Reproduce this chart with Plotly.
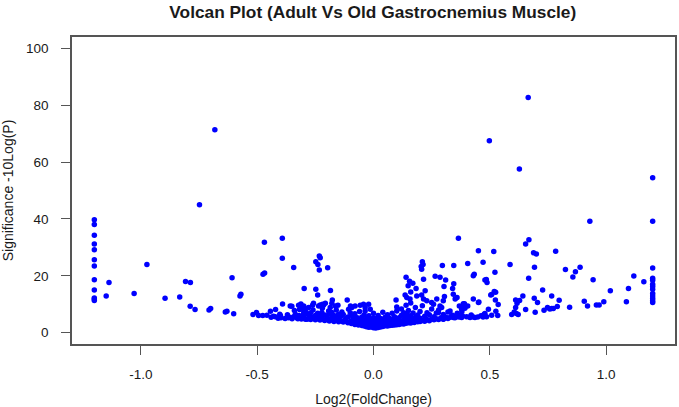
import plotly.graph_objects as go

# scattered genes
fc_outer = [
    -1.2, -1.2, -1.2, -1.2, -1.2, -1.2, -1.2, -1.2, -1.2, -1.2, -1.2, -1.2,
    1.2, 1.2, 1.2, 1.2, 1.2, 1.2, 1.2, 1.2, 1.2, 1.2, 1.2, 1.2, 1.2,
    -1.137, -1.149, -1.029, -0.974, -0.896, -0.833, -0.808, -0.787, -0.788, -0.767,
    -0.748, -0.682, -0.707, -0.700, -0.637, -0.630, -0.601, -0.608, -0.574, -0.570,
    -0.469, -0.475, -0.468, -0.518, -0.503, -0.494, -0.476, -0.458, -0.443, -0.421,
    -0.422, -0.403, -0.398, -0.392, -0.392, -0.391, -0.365, -0.358, -0.351, -0.343,
    -0.336, -0.325, -0.343, -0.318, -0.308, -0.312, -0.300, -0.300, -0.293, -0.286,
    -0.298, -0.248, -0.240, -0.185, -0.248, -0.239, -0.233, -0.229, -0.233, -0.197,
    -0.177, -0.113, -0.322, -0.315, -0.296, -0.279, -0.262, -0.258, -0.300, -0.322,
    -0.265, -0.236, -0.222, -0.222, -0.236, -0.215, -0.207, -0.179, -0.186, -0.193,
    -0.179, -0.164, -0.150, -0.136, -0.107, -0.093, -0.079, -0.057, -0.043, -0.021,
    -0.036, -0.036, -0.014, -0.229, -0.219, -0.164, -0.153, -0.099,
    0.365, 0.451, 0.517, 0.405, 0.471, 0.522, 0.296, 0.345, 0.210, 0.213,
    0.205, 0.207, 0.265, 0.286, 0.310, 0.303, 0.345, 0.340, 0.305, 0.359,
    0.391, 0.385, 0.429, 0.451, 0.433, 0.429, 0.479, 0.488, 0.485, 0.504,
    0.525, 0.476, 0.494, 0.413, 0.436, 0.462, 0.293, 0.258, 0.279, 0.308,
    0.336, 0.362, 0.379, 0.215, 0.140, 0.155, 0.169, 0.149, 0.183,
    0.498, 0.665, 0.627, 0.930,
    0.587, 0.654, 0.668, 0.688, 0.700, 0.692, 0.667, 0.783, 0.825, 0.727,
    0.766, 0.798, 0.691, 0.705, 0.695, 0.642, 0.628, 0.611, 0.617, 0.611,
    0.605, 0.594, 0.614, 0.622, 0.654, 0.733, 0.748, 0.766, 0.773, 0.790, 0.758,
    0.519, 0.508, 0.524, 0.536, 0.526, 0.534, 0.508, 0.479, 0.471, 0.448,
    0.429, 0.415, 0.453, 0.405, 0.386, 0.379, 0.393, 0.382, 0.472, 0.486,
    0.868, 0.857, 0.888, 0.944, 1.018, 1.096, 1.119, 1.162, 0.843, 0.906,
    0.920, 0.958, 0.970, 0.990, 1.087,
    0.097, 0.136, 0.143, 0.157, 0.160, 0.186, 0.207, 0.215, 0.222, 0.229,
    0.250, 0.272, 0.286, 0.300, 0.343, 0.351, 0.369, 0.329, 0.300, 0.343, 0.372,
]
sig_outer = [
    39.7, 38.0, 34.3, 31.2, 29.2, 25.6, 23.4, 18.6, 15.0, 12.2, 11.8, 11.3,
    54.5, 39.2, 22.7, 19.1, 18.4, 17.0, 16.2, 15.3, 13.8, 12.9, 12.0, 11.2, 10.6,
    17.6, 12.9, 13.8, 24.0, 12.1, 12.5, 18.0, 17.6, 9.3, 8.1,
    45.0, 71.4, 8.0, 8.5, 7.3, 7.5, 6.6, 19.3, 12.9, 13.5,
    31.8, 20.5, 21.0, 6.4, 7.1, 6.0, 6.0, 6.1, 7.5, 8.1,
    5.6, 6.5, 5.2, 33.2, 26.2, 10.1, 5.2, 9.4, 9.3, 5.6,
    6.5, 4.9, 22.9, 8.1, 8.5, 10.1, 9.4, 6.9, 4.7, 4.7,
    15.5, 15.3, 13.2, 14.8, 24.9, 24.0, 27.0, 26.3, 22.0, 22.8,
    11.5, 11.5, 9.6, 8.2, 8.2, 8.8, 9.6, 10.3, 6.5, 5.3,
    5.3, 5.3, 5.9, 7.1, 9.4, 9.6, 10.3, 10.3, 8.8, 7.6,
    7.1, 5.3, 6.5, 7.3, 8.2, 8.8, 9.4, 9.6, 10.0, 10.0,
    8.8, 7.6, 8.2, 9.7, 10.0, 9.4, 9.6, 9.4,
    33.2, 28.8, 28.5, 24.3, 24.8, 21.2, 23.6, 23.6, 24.9, 24.0,
    23.3, 22.3, 19.8, 19.5, 18.5, 16.2, 17.2, 15.5, 12.7, 12.4,
    10.2, 8.8, 11.8, 10.6, 20.5, 20.0, 18.5, 17.6, 18.7, 13.2,
    14.2, 6.5, 8.2, 5.5, 5.3, 5.9, 8.8, 10.0, 7.1, 5.3,
    5.9, 5.6, 5.3, 18.8, 19.5, 18.1, 17.4, 16.5, 15.5,
    67.5, 82.7, 57.6, 39.2,
    24.0, 31.2, 32.7, 28.1, 27.7, 23.0, 19.1, 28.6, 22.2, 15.0,
    12.9, 11.4, 12.1, 10.6, 7.2, 12.9, 11.3, 11.5, 10.3, 8.8,
    7.3, 6.4, 6.7, 6.4, 8.1, 7.9, 8.8, 8.5, 8.5, 9.2, 8.3,
    14.5, 13.4, 11.5, 9.9, 7.5, 6.0, 6.1, 6.7, 5.5, 5.5,
    5.5, 5.3, 10.8, 9.4, 10.2, 8.2, 8.6, 5.9, 6.1, 5.6,
    21.4, 19.6, 23.0, 18.6, 14.7, 15.5, 19.9, 17.9, 8.9, 11.0,
    9.4, 9.7, 9.7, 10.9, 10.9,
    11.5, 13.2, 12.4, 11.8, 14.3, 12.9, 13.2, 11.8, 14.7, 11.2,
    10.6, 11.8, 9.4, 11.2, 13.5, 11.8, 9.4, 7.6, 4.7, 5.3, 5.9,
]

# dense cloud of unchanged genes around zero (estimated)
fc_core = [
    -0.44, -0.43, -0.41, -0.40, -0.38, -0.37, -0.36, -0.35, -0.34, -0.33, -0.32, -0.31, -0.30, -0.29,
    -0.28, -0.28, -0.27, -0.27, -0.26, -0.26, -0.25, -0.25, -0.24, -0.24, -0.23, -0.23, -0.22, -0.22,
    -0.21, -0.21, -0.20, -0.20, -0.19, -0.19, -0.18, -0.18, -0.17, -0.17, -0.16, -0.16, -0.15, -0.15,
    -0.14, -0.14, -0.13, -0.13, -0.12, -0.12, -0.11, -0.11, -0.10, -0.10,
    -0.095, -0.09, -0.09, -0.085, -0.08, -0.08, -0.08, -0.075, -0.07, -0.07, -0.065, -0.06, -0.06, -0.06,
    -0.055, -0.05, -0.05, -0.05, -0.045, -0.04, -0.04, -0.04, -0.035, -0.03, -0.03, -0.03, -0.025,
    -0.02, -0.02, -0.02, -0.02, -0.015, -0.01, -0.01, -0.01, -0.005, 0.0, 0.0, 0.0, 0.0, 0.0, 0.0,
    0.005, 0.01, 0.01, 0.01, 0.01, 0.015, 0.02, 0.02, 0.02, 0.02, 0.025, 0.03, 0.03, 0.03, 0.035,
    0.04, 0.04, 0.04, 0.04, 0.045, 0.05, 0.05, 0.05, 0.055, 0.06, 0.06, 0.06, 0.065, 0.07, 0.07, 0.07,
    0.075, 0.08, 0.08, 0.08, 0.085, 0.09, 0.09, 0.09, 0.095, 0.10, 0.10, 0.10, 0.10,
    0.105, 0.11, 0.11, 0.115, 0.12, 0.12, 0.12, 0.125, 0.13, 0.13, 0.13, 0.135, 0.14, 0.14, 0.14,
    0.145, 0.15, 0.15, 0.15, 0.155, 0.16, 0.16, 0.16, 0.165, 0.17, 0.17, 0.175, 0.18, 0.18, 0.185,
    0.19, 0.19, 0.195, 0.20, 0.20, 0.20, 0.21, 0.21, 0.22, 0.22, 0.23, 0.23, 0.24, 0.24, 0.25, 0.25,
    0.26, 0.26, 0.27, 0.27, 0.28, 0.28, 0.29, 0.30, 0.30, 0.31, 0.32, 0.32, 0.33, 0.34, 0.35, 0.36,
    0.37, 0.38, 0.40, 0.42,
]
sig_core = [
    5.4, 5.8, 5.1, 6.0, 5.0, 6.3, 5.4, 4.9, 7.8, 5.2, 6.0, 4.8, 5.6, 7.2,
    5.0, 6.4, 4.6, 7.0, 5.4, 8.0, 4.5, 6.0, 4.9, 6.8, 4.4, 5.6, 4.8, 8.6,
    4.3, 6.2, 4.6, 5.3, 4.1, 6.6, 4.5, 5.2, 3.9, 6.0, 4.4, 8.0, 3.8, 5.0,
    4.2, 5.8, 3.7, 6.4, 4.0, 4.9, 3.5, 5.5, 3.9, 7.0,
    3.2, 4.4, 5.8, 3.6, 2.9, 4.8, 6.6, 3.4, 4.1, 5.2, 2.7, 3.6, 4.6, 7.4,
    3.0, 2.5, 3.9, 5.5, 4.3, 2.3, 3.3, 6.2, 2.8, 2.1, 3.7, 4.9, 2.5,
    1.9, 3.1, 4.2, 5.9, 2.6, 2.0, 3.5, 4.6, 2.9, 1.7, 2.4, 3.3, 4.0, 5.2, 6.8,
    2.1, 1.6, 2.8, 3.8, 4.8, 2.3, 1.8, 3.1, 4.3, 6.0, 2.6, 2.0, 3.5, 5.0, 2.8,
    2.2, 3.9, 4.6, 7.2, 3.0, 2.4, 3.4, 5.4, 2.7, 2.3, 4.1, 6.3, 3.2, 2.5, 3.7, 5.0,
    2.9, 2.6, 4.4, 6.8, 3.3, 2.7, 3.9, 5.6, 3.0, 2.8, 4.7, 7.6, 9.0,
    3.6, 2.9, 5.2, 4.1, 3.1, 6.1, 8.3, 3.8, 3.0, 4.6, 7.0, 5.5, 3.3, 4.0, 9.6,
    6.4, 3.5, 5.0, 7.8, 4.3, 3.4, 5.9, 10.4, 3.9, 4.7, 6.9, 3.6, 5.3, 8.8, 4.1,
    3.8, 6.2, 4.5, 3.9, 5.1, 7.4, 4.3, 9.5, 4.0, 5.8, 4.6, 7.0, 4.2, 6.3, 4.8, 8.3,
    4.5, 5.6, 4.9, 6.9, 4.6, 8.0, 5.2, 4.8, 6.4, 5.5, 5.0, 7.3, 5.4, 6.1, 5.2, 6.8,
    5.5, 7.4, 5.6, 6.2,
]

x_ticks = [-1.0, -0.5, 0.0, 0.5, 1.0]
x_labels = ["-1.0", "-0.5", "0.0", "0.5", "1.0"]
y_ticks = [0, 20, 40, 60, 80, 100]

font = "Liberation Sans, Arial, sans-serif"
ink = "#1a1a1a"
frame = "#555555"

fig = go.Figure()
fig.add_trace(go.Scatter(
    x=fc_outer + fc_core,
    y=sig_outer + sig_core,
    mode="markers",
    marker=dict(color="#0000ff", size=5.5, line=dict(width=0)),
    showlegend=False,
))

axis_common = dict(
    showgrid=False, zeroline=False,
    showline=True, mirror=True, linecolor=frame, linewidth=1.5,
    ticks="outside", ticklen=9, tickcolor=frame, tickwidth=1.2,
    tickfont=dict(family=font, size=13.5, color=ink),
)

fig.update_layout(
    width=679, height=407,
    margin=dict(l=72, r=2, t=37, b=62),
    paper_bgcolor="white", plot_bgcolor="white",
    title=dict(
        text="<b>Volcan Plot (Adult Vs Old Gastrocnemius Muscle)</b>",
        x=0.549, xanchor="center", y=1 - 12 / 407, yanchor="middle", yref="container",
        font=dict(family=font, size=17.3, color=ink),
    ),
    xaxis=dict(
        range=[-1.296, 1.296], tickvals=x_ticks, ticktext=x_labels,
        ticklabelstandoff=8,
        title=dict(text="Log2(FoldChange)", standoff=13,
                   font=dict(family=font, size=14, color=ink)),
        **axis_common,
    ),
    yaxis=dict(
        range=[-4, 104], tickvals=y_ticks,
        ticklabelstandoff=10,
        title=dict(text="Significance -10Log(P)", standoff=9,
                   font=dict(family=font, size=14, color=ink)),
        **axis_common,
    ),
)

# the page body has a default 8px margin; drop it so the figure fills the window
fig.write_html("out.html", config={"displayModeBar": False},
               post_script="document.body.style.margin = '0';")
